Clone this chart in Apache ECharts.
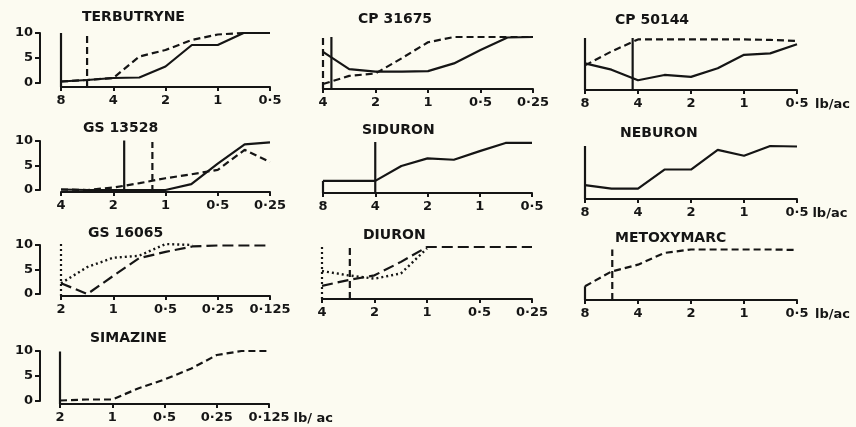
<!DOCTYPE html>
<html><head><meta charset="utf-8">
<script src="https://cdn.jsdelivr.net/npm/echarts@6/dist/echarts.min.js"></script>
<style>html,body{margin:0;padding:0;background:#fcfbf1}#c{width:856px;height:427px}</style>
</head><body><div id="c"></div><script>
// ---------- DATA ----------
const doses8 = [8, 5.66, 4, 2.83, 2, 1.41, 1, 0.71, 0.5];
const doses4 = [4, 2.83, 2, 1.41, 1, 0.71, 0.5, 0.35, 0.25];
const doses2 = [2, 1.41, 1, 0.71, 0.5, 0.35, 0.25, 0.18, 0.125];

const ticks8 = [8, 4, 2, 1, 0.5];
const tickLabels8 = ['8', '4', '2', '1', '0·5'];
const ticks4 = [4, 2, 1, 0.5, 0.25];
const tickLabels4 = ['4', '2', '1', '0·5', '0·25'];
const ticks2 = [2, 1, 0.5, 0.25, 0.125];
const tickLabels2 = ['2', '1', '0·5', '0·25', '0·125'];

const titles = ['TERBUTRYNE', 'CP 31675', 'CP 50144', 'GS 13528', 'SIDURON', 'NEBURON',
                'GS 16065', 'DIURON', 'METOXYMARC', 'SIMAZINE'];
const unitLabels = ['', '', 'lb/ac', '', '', 'lb/ac', '', '', 'lb/ac', 'lb/ ac'];
const scaleTicks = [0, 5, 10];

const terbutryneSolid  = [0.3, 0.6, 1.0, 1.1, 3.3, 7.6, 7.6, 10, 10];
const terbutryneDashed = [0.3, 0.6, 1.0, 5.3, 6.6, 8.6, 9.7, 10, 10];
const cp31675Solid  = [6.9, 3.3, 2.8, 2.8, 2.9, 4.5, 7.3, 9.9, 10];
const cp31675Dashed = [0.2, 1.9, 2.4, 5.6, 8.9, 10, 10, 10, 10];
const cp50144Solid  = [4.7, 3.4, 1.2, 2.3, 1.9, 3.7, 6.5, 6.8, 8.7];
const cp50144Dashed = [4.3, 7.2, 9.7, 9.7, 9.7, 9.7, 9.7, 9.6, 9.4];
const gs13528Solid  = [0.1, 0, 0, 0, 0, 1.2, 5.4, 9.3, 9.7];
const gs13528Dashed = [0.1, 0, 0.5, 1.4, 2.4, 3.2, 4.1, 8.2, 5.7];
const siduronSolid  = [1.9, 1.9, 1.9, 5.0, 6.6, 6.3, 8.1, 9.8, 9.8];
const neburonSolid  = [2.0, 1.3, 1.3, 5.2, 5.2, 9.2, 8.0, 10, 9.9];
const gs16065Dashed = [2.2, 0, 3.7, 7.3, 8.6, 9.7, 9.9, 9.9, 9.9];
const gs16065Dotted = [2.2, 5.5, 7.4, 7.8, 10.2, 10];
const diuronDashed  = [1.9, 3.1, 4.1, 6.9, 10, 10, 10, 10, 10];
const diuronDotted  = [5.0, 4.1, 3.4, 4.5, 9.7];
const metoxymarcDashed = [2.4, 5.4, 6.8, 9.2, 9.9, 9.9, 9.9, 9.9, 9.8];
const simazineDashed   = [0.1, 0.3, 0.3, 2.5, 4.3, 6.5, 9.2, 10, 10];

// vertical marker lines: dose, top value, style
const terbutryneMarkers = [[8, 10, 'solid'], [5.66, 10, 'dashed']];
const cp31675Markers = [[4, 10, 'dashed'], [3.58, 10, 'solid']];
const cp50144Markers = [[8, 10, 'solid'], [4.29, 10, 'solid']];
const gs13528Markers = [[1.73, 10.1, 'solid'], [1.19, 9.8, 'dashed']];
const siduronMarkers = [[8, 1.9, 'solid'], [4, 10, 'solid']];
const neburonMarkers = [[8, 10, 'solid']];
const gs16065Markers = [[2, 10.3, 'dotted']];
const diuronMarkers = [[4, 10.3, 'dotted'], [2.77, 10, 'dashed']];
const metoxymarcMarkers = [[8, 2.4, 'solid'], [5.6, 9.9, 'dashed']];
const simazineMarkers = [[2, 9.9, 'solid']];

// ---------- PANELS ----------
const panels = [
  {ticks: ticks8, labels: tickLabels8, lines: [[doses8, terbutryneSolid, 'solid'], [doses8, terbutryneDashed, 'dashed']], markers: terbutryneMarkers},
  {ticks: ticks4, labels: tickLabels4, lines: [[doses4, cp31675Solid, 'solid'], [doses4, cp31675Dashed, 'dashed']], markers: cp31675Markers},
  {ticks: ticks8, labels: tickLabels8, lines: [[doses8, cp50144Solid, 'solid'], [doses8, cp50144Dashed, 'dashed']], markers: cp50144Markers},
  {ticks: ticks4, labels: tickLabels4, lines: [[doses4, gs13528Solid, 'solid'], [doses4, gs13528Dashed, 'dashed']], markers: gs13528Markers},
  {ticks: ticks8, labels: tickLabels8, lines: [[doses8, siduronSolid, 'solid']], markers: siduronMarkers},
  {ticks: ticks8, labels: tickLabels8, lines: [[doses8, neburonSolid, 'solid']], markers: neburonMarkers},
  {ticks: ticks2, labels: tickLabels2, lines: [[doses2, gs16065Dashed, 'longdash'], [doses2, gs16065Dotted, 'dotted']], markers: gs16065Markers},
  {ticks: ticks4, labels: tickLabels4, lines: [[doses4, diuronDashed, 'longdash'], [doses4, diuronDotted, 'dotted']], markers: diuronMarkers},
  {ticks: ticks8, labels: tickLabels8, lines: [[doses8, metoxymarcDashed, 'dashed']], markers: metoxymarcMarkers},
  {ticks: ticks2, labels: tickLabels2, lines: [[doses2, simazineDashed, 'dashed']], markers: simazineMarkers}
];

// layout: [xLeft, xRight, yTop(10), yBottom(0), axisLineY, titleLeft, titleTop, showScale, unitGap]
const layout = [
  [61, 270, 33, 83, 87, 82, 10, true, 0],
  [323, 533, 37, 85, 89, 358, 12, false, 0],
  [585, 797, 38, 86, 90, 615, 13, false, 18],
  [61, 270, 141, 190, 192, 83, 121, true, 0],
  [323, 532, 142, 190, 193, 362, 123, false, 0],
  [585, 797, 146, 195, 199, 620, 126, false, 15],
  [61, 270, 245, 294, 296, 88, 226, true, 0],
  [322, 532, 247, 295, 299, 363, 228, false, 0],
  [585, 797, 249, 298, 300, 615, 231, false, 18],
  [60, 269, 351, 401, 404, 90, 331, true, 19]
];

const INK = '#151515';
const FONT = 'DejaVu Sans';
const dashStyles = {solid: 'solid', dashed: [7, 4], longdash: [11, 5], dotted: [2, 3]};
const lg = Math.log2;

const option = {
  backgroundColor: '#fcfbf1',
  animation: false,
  textStyle: {fontFamily: FONT},
  title: [], grid: [], xAxis: [], yAxis: [], series: []
};

panels.forEach((p, i) => {
  const [x0, x1, yT, yB, axY, tl, tt, showScale, unitGap] = layout[i];
  const pxPerUnit = (yB - yT) / 10;
  const bottomVal = -(axY - yB) / pxPerUnit;
  option.title.push({text: titles[i], left: tl, top: tt, padding: 0,
    textStyle: {fontSize: 14, fontWeight: 'bold', color: INK, fontFamily: FONT}});
  option.grid.push({left: x0, top: yT, width: x1 - x0, height: yB - yT, outerBoundsMode: 'none', containLabel: false});
  const tvals = p.ticks.map(lg);
  option.xAxis.push({
    gridIndex: i, type: 'value', inverse: true,
    min: Math.min(...tvals), max: Math.max(...tvals), interval: 1,
    position: 'bottom', offset: axY - yB,
    axisLine: {show: true, onZero: false, lineStyle: {color: INK, width: 2}},
    axisTick: {show: true, inside: false, length: 4, lineStyle: {color: INK, width: 2}},
    splitLine: {show: false},
    axisLabel: {margin: 7, fontSize: 13, fontWeight: 'bold', color: INK, fontFamily: FONT,
      formatter: v => { const k = tvals.findIndex(t => Math.abs(t - v) < 1e-6); return k >= 0 ? p.labels[k] : ''; }},
    name: unitLabels[i], nameLocation: 'start', nameGap: unitGap,
    nameTextStyle: {fontSize: 13, fontWeight: 'bold', color: INK, fontFamily: FONT,
      align: 'left', verticalAlign: 'top', padding: [8, 0, 0, 0]}
  });
  option.yAxis.push({
    gridIndex: i, type: 'value', min: 0, max: 10, interval: 5,
    show: showScale, position: 'left', offset: x0 - 40,
    axisLine: {show: true, onZero: false, lineStyle: {color: INK, width: 2}},
    axisTick: {show: true, length: 5, lineStyle: {color: INK, width: 2}},
    splitLine: {show: false},
    axisLabel: {margin: 7, fontSize: 13, fontWeight: 'bold', color: INK, fontFamily: FONT,
      formatter: v => scaleTicks.includes(v) ? String(v) : ''}
  });
  p.lines.forEach(([doses, vals, st]) => {
    option.series.push({
      type: 'line', xAxisIndex: i, yAxisIndex: i, showSymbol: false, symbol: 'none',
      silent: true, clip: false,
      data: vals.map((v, k) => [lg(doses[k]), v]),
      lineStyle: {color: INK, width: st === 'dotted' ? 2.4 : 2.2, type: dashStyles[st]}
    });
  });
  p.markers.forEach(([d, top, st]) => {
    option.series.push({
      type: 'line', xAxisIndex: i, yAxisIndex: i, showSymbol: false, symbol: 'none',
      silent: true, clip: false,
      data: [[lg(d), bottomVal], [lg(d), top]],
      lineStyle: {color: INK, width: 2.2, type: dashStyles[st]}
    });
  });
});

const chart = echarts.init(document.getElementById('c'), null, {renderer: 'canvas'});
chart.setOption(option);
</script></body></html>
